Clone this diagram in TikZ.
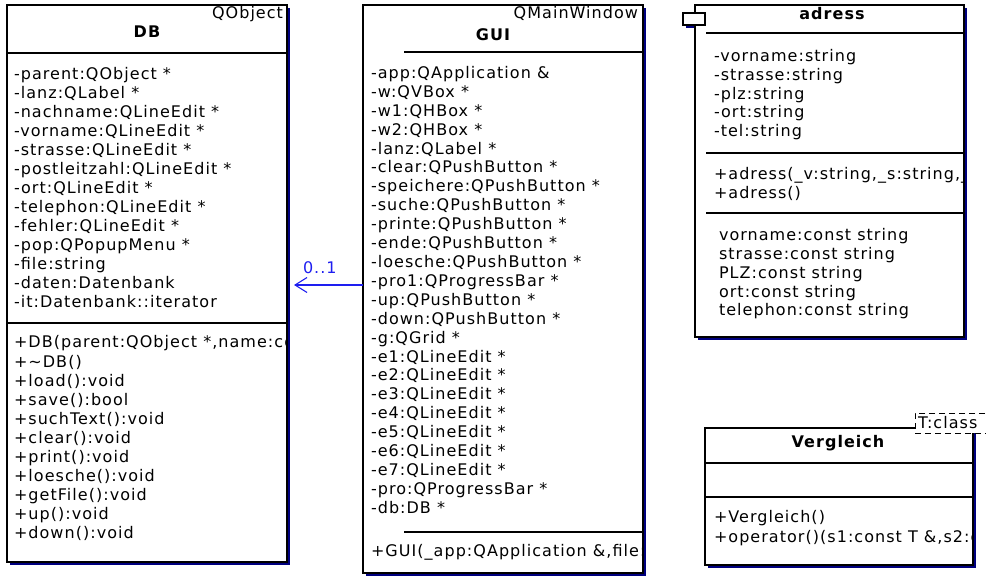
\documentclass[tikz,border=0pt]{standalone}
\usepackage{fontspec}
\setmainfont{DejaVu Sans}
\newfontfamily\umlfont[LetterSpace=6.5]{DejaVu Sans}
\usetikzlibrary{shadows,arrows.meta,calc}
\definecolor{shadowblue}{RGB}{0,0,128}
\definecolor{linkblue}{RGB}{30,30,240}
\begin{document}
\begin{tikzpicture}[x=1pt,y=-1pt,
  every node/.style={inner sep=0pt, outer sep=0pt},
  classbox/.style={draw=black, line width=1.1pt, fill=white, anchor=north west,
    drop shadow={shadow xshift=3pt, shadow yshift=-3pt, fill=shadowblue, opacity=1}},
  sepline/.style={line width=1.1pt},
  member/.style={anchor=base west, font=\umlfont\fontsize{16}{18}\selectfont},
  classtitle/.style={anchor=base, font=\umlfont\bfseries\fontsize{16}{18}\selectfont},
  stereo/.style={anchor=base east, font=\umlfont\fontsize{16}{18}\selectfont},
  assoc/.style={draw=linkblue, line width=1.1pt, -{Straight Barb[length=12pt,width=15pt,line width=1.1pt]}},
  tmpl/.style={draw=black, fill=white, line width=1pt, dash pattern=on 6pt off 4pt, anchor=north west}
]
\useasboundingbox (0,0) rectangle (986,580);

% ---------------- DB ----------------
\node[classbox, minimum width=280pt, minimum height=557pt] (db) at (7,5) {};
\draw[sepline] (db.west |- 0,53) -- (db.east |- 0,53);
\draw[sepline] (db.west |- 0,323) -- (db.east |- 0,323);
\begin{scope}
\clip (db.north west) rectangle (db.south east);
\node[stereo] (dbstereo) at (283,19) {QObject};
\node[classtitle] (dbtitle) at (147,38) {DB};
\foreach \t [count=\i] in {
  {-parent:QObject *},{-lanz:QLabel *},{-nachname:QLineEdit *},{-vorname:QLineEdit *},
  {-strasse:QLineEdit *},{-postleitzahl:QLineEdit *},{-ort:QLineEdit *},{-telephon:QLineEdit *},
  {-fehler:QLineEdit *},{-pop:QPopupMenu *},{-file:string},{-daten:Datenbank},{-it:Datenbank::iterator}}
  \node[member] (dba\i) at (14,{79.5+(\i-1)*19}) {\t};
\foreach \t [count=\i] in {
  {+DB(parent:QObject *,name:co},{+\textasciitilde DB()},{+load():void},{+save():bool},
  {+suchText():void},{+clear():void},{+print():void},{+loesche():void},{+getFile():void},
  {+up():void},{+down():void}}
  \node[member] (dbm\i) at (14,{348+(\i-1)*19}) {\t};
\end{scope}

% ---------------- GUI ----------------
\node[classbox, minimum width=280pt, minimum height=568pt] (gui) at (363,5) {};
\draw[sepline] (404,52) -- (gui.east |- 0,52);
\draw[sepline] (404,532) -- (gui.east |- 0,532);
\begin{scope}
\clip (gui.north west) rectangle (gui.south east);
\node[stereo] (guistereo) at (638,19) {QMainWindow};
\node[classtitle] (guititle) at (493,41) {GUI};
\foreach \t [count=\i] in {
  {-app:QApplication \&},{-w:QVBox *},{-w1:QHBox *},{-w2:QHBox *},{-lanz:QLabel *},
  {-clear:QPushButton *},{-speichere:QPushButton *},{-suche:QPushButton *},{-printe:QPushButton *},
  {-ende:QPushButton *},{-loesche:QPushButton *},{-pro1:QProgressBar *},{-up:QPushButton *},
  {-down:QPushButton *},{-g:QGrid *},{-e1:QLineEdit *},{-e2:QLineEdit *},{-e3:QLineEdit *},
  {-e4:QLineEdit *},{-e5:QLineEdit *},{-e6:QLineEdit *},{-e7:QLineEdit *},
  {-pro:QProgressBar *},{-db:DB *}}
  \node[member] (guia\i) at (371,{78.5+(\i-1)*18.9}) {\t};
\node[member] (guim1) at (371,556) {+GUI(\_app:QApplication \&,file:};
\end{scope}

% ---------------- adress ----------------
\fill[shadowblue] (686,16) rectangle (708,28);
\node[classbox, minimum width=269pt, minimum height=332pt] (adr) at (695,5) {};
\node[draw=black, fill=white, line width=1.1pt, anchor=north west, minimum width=22pt, minimum height=12pt] (adricon) at (683,13) {};
\draw[sepline] (706,33) -- (adr.east |- 0,33);
\draw[sepline] (706,153) -- (adr.east |- 0,153);
\draw[sepline] (706,213) -- (adr.east |- 0,213);
\begin{scope}
\clip (adr.north west) rectangle (adr.south east);
\node[classtitle] (adrtitle) at (832,20) {adress};
\foreach \t [count=\i] in {{-vorname:string},{-strasse:string},{-plz:string},{-ort:string},{-tel:string}}
  \node[member] (adra\i) at (714,{62+(\i-1)*18.6}) {\t};
\node[member] (adrm1) at (714,180) {+adress(\_v:string,\_s:string,\_};
\node[member] (adrm2) at (714,199) {+adress()};
\foreach \t [count=\i] in {{vorname:const string},{strasse:const string},{PLZ:const string},{ort:const string},{telephon:const string}}
  \node[member] (adrc\i) at (719,{241+(\i-1)*18.75}) {\t};
\end{scope}

% ---------------- Vergleich ----------------
\node[classbox, minimum width=268pt, minimum height=137pt] (ver) at (705,428) {};
\draw[sepline] (ver.west |- 0,463) -- (ver.east |- 0,463);
\draw[sepline] (ver.west |- 0,497) -- (ver.east |- 0,497);
\begin{scope}
\clip (ver.north west) rectangle (ver.south east);
\node[classtitle] (vertitle) at (838,447) {Vergleich};
\node[member] (verm1) at (714,522) {+Vergleich()};
\node[member] (verm2) at (714,542) {+operator()(s1:const T \&,s2:c};
\end{scope}
\node[tmpl, minimum width=75pt, minimum height=20pt] (tparam) at (915,413) {};
\node[member] (tparamtext) at (918,428) {T:class};

% ---------------- association ----------------
\draw[assoc] (gui.west |- 0,285) -- ($(db.east |- 0,285)+(7,0)$);
\node[member, text=linkblue] (mult) at (303,274) {0..1};
\end{tikzpicture}
\end{document}
